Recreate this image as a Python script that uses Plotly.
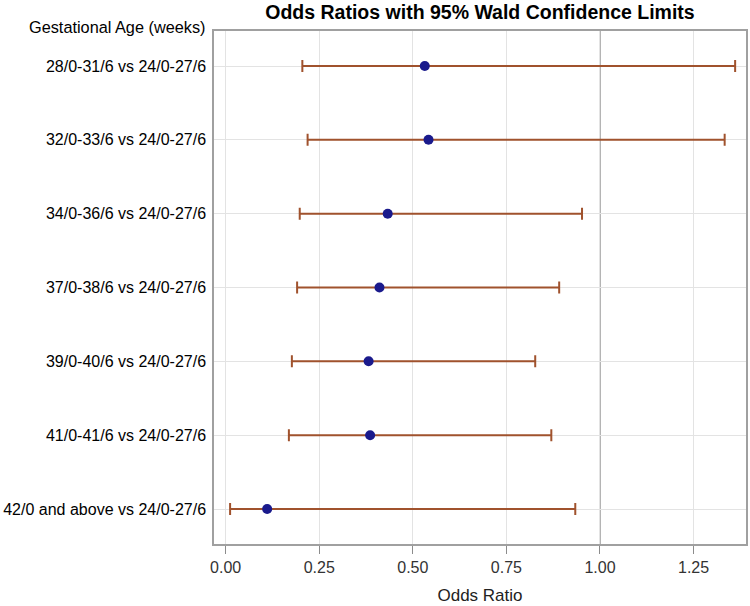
import plotly.graph_objects as go

categories = [
    "28/0-31/6 vs 24/0-27/6",
    "32/0-33/6 vs 24/0-27/6",
    "34/0-36/6 vs 24/0-27/6",
    "37/0-38/6 vs 24/0-27/6",
    "39/0-40/6 vs 24/0-27/6",
    "41/0-41/6 vs 24/0-27/6",
    "42/0 and above vs 24/0-27/6",
]
odds_ratio = [0.532, 0.542, 0.433, 0.411, 0.382, 0.386, 0.111]
lower_cl = [0.205, 0.219, 0.198, 0.191, 0.177, 0.169, 0.012]
upper_cl = [1.361, 1.333, 0.952, 0.891, 0.827, 0.870, 0.934]
x_ticks = [0.0, 0.25, 0.5, 0.75, 1.0, 1.25]
x_ticklabels = ["0.00", "0.25", "0.50", "0.75", "1.00", "1.25"]
ref_value = 1.0

FONT = "Liberation Sans, Arial, sans-serif"

fig = go.Figure()
fig.add_trace(go.Scatter(
    x=odds_ratio,
    y=categories,
    mode="markers",
    marker=dict(color="#1a1a8c", size=10, line=dict(width=0)),
    error_x=dict(
        type="data",
        symmetric=False,
        array=[u - o for u, o in zip(upper_cl, odds_ratio)],
        arrayminus=[o - l for o, l in zip(odds_ratio, lower_cl)],
        color="#a0522d",
        thickness=2,
        width=6,
    ),
    showlegend=False,
))

fig.add_shape(type="line", xref="x", yref="paper", x0=ref_value, x1=ref_value,
              y0=0, y1=1, line=dict(color="#9a9a9a", width=1.5), layer="below")

fig.update_layout(
    width=750, height=606,
    margin=dict(l=214, r=4, t=31, b=62, autoexpand=False),
    paper_bgcolor="white", plot_bgcolor="white",
    font=dict(family=FONT, size=16, color="black"),
    title=dict(text="<b>Odds Ratios with 95% Wald Confidence Limits</b>",
               x=(214 + 746) / 2 / 750, xanchor="center", y=1 - 12 / 606, yanchor="middle",
               font=dict(family=FONT, size=19.5, color="black")),
    xaxis=dict(
        range=[-0.031, 1.390],
        tickvals=x_ticks, ticktext=x_ticklabels,
        ticks="outside", ticklen=8, tickcolor="#8c8c8c", tickwidth=1,
        tickfont=dict(size=16, color="#333333"),
        showgrid=True, gridcolor="#e3e3e3", gridwidth=1,
        zeroline=False, automargin=False,
        showline=True, linecolor="#a0a0a0", linewidth=1.5, mirror=True,
        title=dict(text="Odds Ratio", font=dict(size=17, color="#222222"), standoff=14),
    ),
    yaxis=dict(
        type="category",
        categoryorder="array", categoryarray=categories,
        range=[6.474, -0.474],
        ticks="", ticklabelstandoff=3,
        tickfont=dict(size=16, color="black"),
        showgrid=True, gridcolor="#e3e3e3", gridwidth=1,
        zeroline=False, automargin=False,
        showline=True, linecolor="#a0a0a0", linewidth=1.5, mirror=True,
    ),
    annotations=[dict(
        text="Gestational Age (weeks)", xref="paper", yref="paper",
        x=-0.013, y=(544 - 27) / 513, xanchor="right", yanchor="middle",
        showarrow=False, font=dict(family=FONT, size=16.3, color="black"),
    )],
)

fig.write_html("out.html", config={"displayModeBar": False},
               post_script="document.body.style.margin='0';document.body.style.overflow='hidden';")
